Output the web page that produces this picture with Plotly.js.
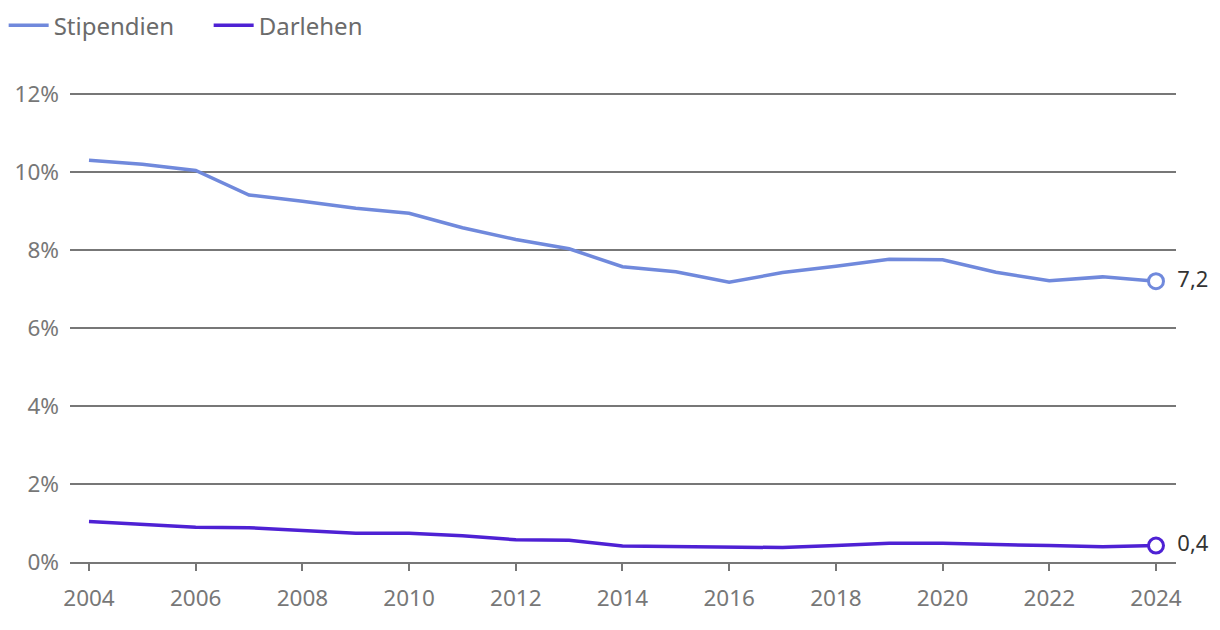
<!DOCTYPE html>
<html>
<head>
<meta charset="utf-8">
<script src="https://cdn.plot.ly/plotly-3.0.1.min.js"></script>
<style>html,body{margin:0;padding:0;background:#fff;}#chart{width:1220px;height:630px;}</style>
</head>
<body>
<div id="chart"></div>
<script>
const years = [2004,2005,2006,2007,2008,2009,2010,2011,2012,2013,2014,2015,2016,2017,2018,2019,2020,2021,2022,2023,2024];
const stipendien = [10.3,10.2,10.04,9.41,9.25,9.07,8.94,8.57,8.27,8.03,7.57,7.44,7.17,7.42,7.58,7.76,7.75,7.43,7.21,7.31,7.2];
const darlehen = [1.04,0.96,0.89,0.88,0.8,0.74,0.74,0.67,0.57,0.56,0.41,0.4,0.37,0.37,0.42,0.48,0.48,0.44,0.42,0.39,0.42];
const seriesNames = ['Stipendien','Darlehen'];
const colors = ['#7089dc','#4e21d4'];
const yTicks = [0,2,4,6,8,10,12];
const yTickText = ['0%','2%','4%','6%','8%','10%','12%'];
const xTicks = [2004,2006,2008,2010,2012,2014,2016,2018,2020,2022,2024];

const fmt = v => v.toFixed(1).replace('.', ',');
const data = [];
[stipendien, darlehen].forEach((vals, i) => {
  data.push({
    x: years, y: vals, type: 'scatter', mode: 'lines', name: seriesNames[i],
    line: {color: colors[i], width: 3.5}, hoverinfo: 'skip'
  });
});
[stipendien, darlehen].forEach((vals, i) => {
  const last = vals.length - 1;
  data.push({
    x: [years[last]], y: [vals[last]], type: 'scatter', mode: 'markers+text',
    showlegend: false, text: ['\u2002' + fmt(vals[last])], textposition: 'middle right',
    textfont: {family: 'Noto Sans', size: 22, color: '#333'},
    marker: {size: 15, color: '#fff', line: {color: colors[i], width: 3}},
    cliponaxis: false, hoverinfo: 'skip'
  });
});

const layout = {
  width: 1220, height: 630,
  margin: {l: 70, r: 44, t: 92, b: 68},
  paper_bgcolor: '#fff', plot_bgcolor: '#fff',
  font: {family: 'Noto Sans', size: 22, color: '#777'},
  showlegend: true,
  legend: {orientation: 'h', x: 0.003, xref: 'container', y: 0.995, yref: 'container', yanchor: 'top',
           font: {family: 'Noto Sans', size: 24, color: '#6b6b6b'}, itemwidth: 40, entrywidth: 150, tracegroupgap: 0},
  xaxis: {
    range: [2003.644, 2024.375], tickmode: 'array', tickvals: xTicks,
    showgrid: false, zeroline: false, showline: true, linecolor: '#777', linewidth: 2,
    ticks: 'outside', ticklen: 7, tickwidth: 2, tickcolor: '#777', ticklabelstandoff: 8,
    tickfont: {family: 'Noto Sans', size: 22.5, color: '#777'}, fixedrange: true
  },
  yaxis: {
    range: [0, 12.05], tickmode: 'array', tickvals: yTicks, ticktext: yTickText,
    showgrid: true, gridcolor: '#777', gridwidth: 1.5, zeroline: false, showline: false,
    ticks: '', ticklabelstandoff: 10,
    tickfont: {family: 'Noto Sans', size: 22.5, color: '#777'}, fixedrange: true
  }
};
Plotly.newPlot('chart', data, layout, {displayModeBar: false, staticPlot: true});
</script>
</body>
</html>
